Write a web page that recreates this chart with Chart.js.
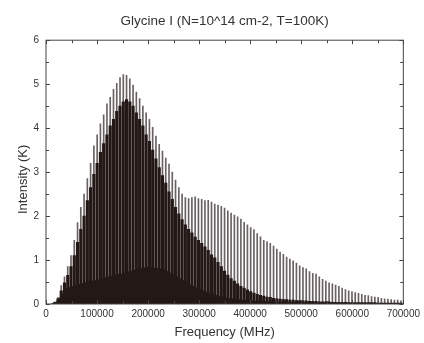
<!DOCTYPE html>
<html>
<head>
<meta charset="utf-8">
<script src="https://cdn.jsdelivr.net/npm/chart.js@4.4.1/dist/chart.umd.min.js"></script>
<style>
  html, body { margin: 0; padding: 0; background: #fff; }
  #wrap { width: 424px; height: 343px; }
</style>
</head>
<body>
<div id="wrap"><canvas id="spec"></canvas></div>
<script>
// Line positions (MHz) of the band lines
const lineFreq = [17000, 23400, 29800, 36200, 42600, 49000, 55400, 61800, 68200, 74600,
  81000, 87400, 93800, 100200, 106600, 113000, 119400, 125800, 132200, 138600,
  145000, 151400, 157800, 164200, 170600, 177000, 183400, 189800, 196200, 202600,
  209000, 215400, 221800, 228200, 234600, 241000, 247400, 253800, 260200, 266600,
  273000, 279400, 285800, 292200, 298600, 305000, 311400, 317800, 324200, 330600,
  337000, 343400, 349800, 356200, 362600, 369000, 375400, 381800, 388200, 394600,
  401000, 407400, 413800, 420200, 426600, 433000, 439400, 445800, 452200, 458600,
  465000, 471400, 477800, 484200, 490600, 497000, 503400, 509800, 516200, 522600,
  529000, 535400, 541800, 548200, 554600, 561000, 567400, 573800, 580200, 586600,
  593000, 599400, 605800, 612200, 618600, 625000, 631400, 637800, 644200, 650600,
  657000, 663400, 669800, 676200, 682600, 689000, 695400];

// strongest line at each position (K)
const tallInt = [0.05, 0.15, 0.42, 0.62, 0.85, 1.1, 1.45, 1.85, 2.2, 2.5,
  2.85, 3.2, 3.6, 3.85, 4.1, 4.3, 4.55, 4.7, 4.88, 5.02,
  5.15, 5.22, 5.2, 5.12, 4.98, 4.82, 4.67, 4.5, 4.35, 4.2,
  4.02, 3.82, 3.63, 3.48, 3.32, 3.18, 3.0, 2.82, 2.65, 2.5,
  2.42, 2.4, 2.42, 2.44, 2.4, 2.38, 2.35, 2.36, 2.32, 2.27,
  2.25, 2.22, 2.18, 2.12, 2.07, 2.02, 1.98, 1.93, 1.86, 1.8,
  1.74, 1.69, 1.6, 1.53, 1.45, 1.42, 1.38, 1.32, 1.25, 1.18,
  1.13, 1.07, 1.02, 0.98, 0.93, 0.87, 0.83, 0.8, 0.74, 0.7,
  0.68, 0.62, 0.56, 0.52, 0.48, 0.46, 0.43, 0.4, 0.36, 0.33,
  0.3, 0.28, 0.26, 0.24, 0.22, 0.2, 0.19, 0.17, 0.16, 0.15,
  0.13, 0.12, 0.11, 0.1, 0.09, 0.09, 0.07];

// weaker blended lines (dark body)
const darkInt = [0.03, 0.12, 0.3, 0.48, 0.65, 0.85, 1.1, 1.4, 1.7, 2.0,
  2.35, 2.65, 2.95, 3.2, 3.45, 3.65, 3.85, 4.05, 4.2, 4.38,
  4.5, 4.6, 4.65, 4.6, 4.5, 4.35, 4.2, 4.05, 3.85, 3.7,
  3.5, 3.3, 3.1, 2.92, 2.75, 2.55, 2.38, 2.2, 2.05, 1.92,
  1.8, 1.7, 1.62, 1.52, 1.45, 1.38, 1.3, 1.22, 1.12, 1.05,
  0.95, 0.85, 0.75, 0.66, 0.58, 0.52, 0.46, 0.4, 0.36, 0.32,
  0.28, 0.25, 0.22, 0.2, 0.18, 0.16, 0.15, 0.13, 0.12, 0.11,
  0.1, 0.1, 0.09, 0.09, 0.08, 0.08, 0.07, 0.07, 0.06, 0.06,
  0.06, 0.05, 0.05, 0.05, 0.05, 0.04, 0.04, 0.04, 0.04, 0.04,
  0.03, 0.03, 0.03, 0.03, 0.03, 0.03, 0.03, 0.03, 0.03, 0.02,
  0.02, 0.02, 0.02, 0.02, 0.02, 0.02, 0.02];

// unresolved forest of weak lines near the baseline
const floorFreq = [8000, 20000, 30000, 40000, 55000, 80000, 100000, 120000, 150000, 180000,
  200000, 230000, 260000, 290000, 320000, 350000, 400000, 450000, 550000, 698000];
const floorInt = [0, 0.05, 0.2, 0.35, 0.42, 0.5, 0.55, 0.62, 0.7, 0.8,
  0.85, 0.8, 0.6, 0.4, 0.25, 0.15, 0.08, 0.05, 0.03, 0.02];

const xTickStep = 100000;
const yTickStep = 1;

const FONT = "'Liberation Sans', Arial, sans-serif";
const INK = '#231815';

function toPoints(xs, ys) {
  return xs.map((f, i) => ({ x: f, y: ys[i] }));
}

// box frame with inward ticks on all four sides
const frame = {
  id: 'frame',
  afterDatasetsDraw(chart) {
    const { ctx, chartArea: a, scales: { x, y } } = chart;
    ctx.save();
    ctx.strokeStyle = '#444';
    ctx.lineWidth = 1;
    ctx.strokeRect(a.left, a.top, a.right - a.left, a.bottom - a.top);
    ctx.beginPath();
    for (let v = x.min; v <= x.max; v += xTickStep / 2) {
      const px = Math.round(x.getPixelForValue(v)) + 0.5;
      const len = v % xTickStep === 0 ? 4 : 3;
      ctx.moveTo(px, a.bottom); ctx.lineTo(px, a.bottom - len);
      ctx.moveTo(px, a.top); ctx.lineTo(px, a.top + len);
    }
    for (let v = y.min; v <= y.max; v += yTickStep / 2) {
      const py = Math.round(y.getPixelForValue(v)) + 0.5;
      const len = v % yTickStep === 0 ? 4 : 3;
      ctx.moveTo(a.left, py); ctx.lineTo(a.left + len, py);
      ctx.moveTo(a.right, py); ctx.lineTo(a.right - len, py);
    }
    ctx.stroke();
    ctx.restore();
  }
};

new Chart(document.getElementById('spec'), {
  type: 'bar',
  data: {
    datasets: [
      {
        label: 'strong lines',
        data: toPoints(lineFreq, tallInt),
        backgroundColor: '#6a6262',
        barThickness: 1,
        grouped: false,
        order: 3
      },
      {
        label: 'weak lines',
        data: toPoints(lineFreq, darkInt),
        backgroundColor: INK,
        barThickness: 2.5,
        grouped: false,
        order: 2
      },
      {
        type: 'line',
        label: 'blend',
        data: toPoints(floorFreq, floorInt),
        borderWidth: 0,
        borderColor: INK,
        backgroundColor: INK,
        fill: 'origin',
        pointRadius: 0,
        tension: 0,
        order: 1
      }
    ]
  },
  options: {
    responsive: true,
    maintainAspectRatio: false,
    animation: false,
    layout: { padding: { left: 0, right: 19, top: 0, bottom: 0 } },
    plugins: {
      legend: { display: false },
      tooltip: { enabled: false },
      title: {
        display: true,
        fullSize: false,
        text: 'Glycine I (N=10^14 cm-2, T=100K)',
        color: '#333',
        font: { family: FONT, size: 13.5, weight: 'normal' },
        padding: { top: 13, bottom: 11 }
      }
    },
    scales: {
      x: {
        type: 'linear',
        min: 0,
        max: 700000,
        offset: false,
        grid: { display: false, drawTicks: false },
        border: { display: false },
        ticks: {
          stepSize: xTickStep,
          maxRotation: 0,
          autoSkip: false,
          padding: 4,
          color: '#333',
          font: { family: FONT, size: 10 },
          callback: v => String(v)
        },
        title: {
          display: true,
          text: 'Frequency (MHz)',
          color: '#333',
          font: { family: FONT, size: 13 },
          padding: { top: 0, bottom: 3 }
        },
        afterFit(scale) { scale.height = 39; }
      },
      y: {
        min: 0,
        max: 6,
        grid: { display: false, drawTicks: false },
        border: { display: false },
        ticks: {
          stepSize: yTickStep,
          padding: 7,
          color: '#333',
          font: { family: FONT, size: 10 }
        },
        title: {
          display: true,
          text: 'Intensity (K)\u00a0\u00a0\u00a0\u00a0',
          color: '#333',
          font: { family: FONT, size: 13 },
          padding: { top: 16, bottom: 0 }
        },
        afterFit(scale) { scale.width = 46; }
      }
    }
  },
  plugins: [frame]
});
</script>
</body>
</html>
